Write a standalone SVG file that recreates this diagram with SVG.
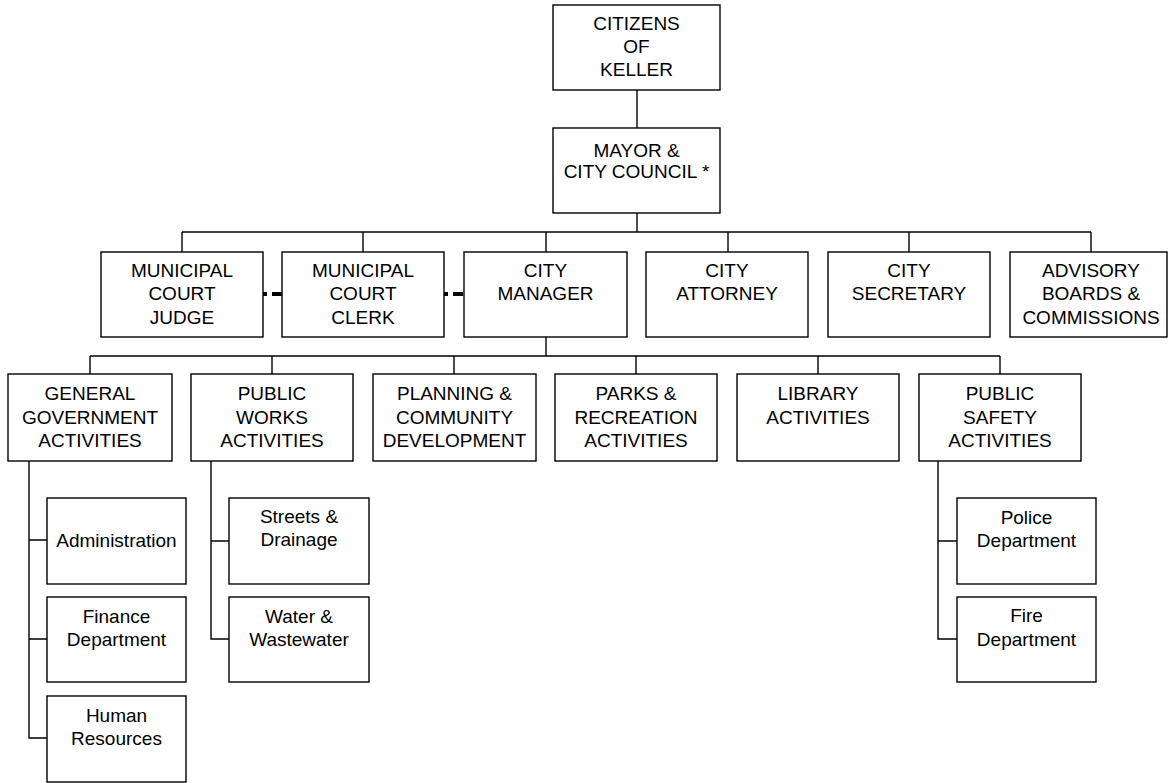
<svg xmlns="http://www.w3.org/2000/svg" width="1168" height="783" viewBox="0 0 1168 783">
<style>
rect.b{fill:#fff;stroke:#000;stroke-width:1.4}
text{font-family:"Liberation Sans",Arial,sans-serif;font-size:19px;fill:#000;text-anchor:middle}
.c line,.c path{stroke:#000;stroke-width:1.4;fill:none}
.c .d{stroke-width:4;stroke-dasharray:4 5 10}
</style>
<rect width="1168" height="783" fill="#fff"/>
<g class="c" id="connectors">
<line x1="637" y1="90" x2="637" y2="128"/>
<line x1="637" y1="213" x2="637" y2="232"/>
<line x1="182" y1="232" x2="1091" y2="232"/>
<line x1="182" y1="232" x2="182" y2="252"/>
<line x1="363" y1="232" x2="363" y2="252"/>
<line x1="546" y1="232" x2="546" y2="252"/>
<line x1="728" y1="232" x2="728" y2="252"/>
<line x1="909" y1="232" x2="909" y2="252"/>
<line x1="1091" y1="232" x2="1091" y2="252"/>
<line class="d" x1="263" y1="294" x2="282" y2="294"/>
<line class="d" x1="444" y1="294" x2="464" y2="294"/>
<line x1="546" y1="337" x2="546" y2="356"/>
<line x1="90" y1="356" x2="1000" y2="356"/>
<line x1="90" y1="356" x2="90" y2="374"/>
<line x1="272" y1="356" x2="272" y2="374"/>
<line x1="454" y1="356" x2="454" y2="374"/>
<line x1="636" y1="356" x2="636" y2="374"/>
<line x1="818" y1="356" x2="818" y2="374"/>
<line x1="1000" y1="356" x2="1000" y2="374"/>
<path d="M29 461V738H47M29 540H47M29 639H47"/>
<path d="M211 461V639H229M211 541H229"/>
<path d="M938 461V639H957M938 541H957"/>
</g>
<g id="citizens"><rect class="b" x="553" y="5" width="167" height="85"/><text x="636.5" y="29.5">CITIZENS</text><text x="636.5" y="52.5">OF</text><text x="636.5" y="76">KELLER</text></g>
<g id="mayor"><rect class="b" x="553" y="128" width="167" height="85"/><text x="636.5" y="156.5">MAYOR &amp;</text><text x="636.5" y="178">CITY COUNCIL *</text></g>
<g id="judge"><rect class="b" x="101" y="252" width="162" height="85"/><text x="182" y="277">MUNICIPAL</text><text x="182" y="300">COURT</text><text x="182" y="323.5">JUDGE</text></g>
<g id="clerk"><rect class="b" x="282" y="252" width="162" height="85"/><text x="363" y="277">MUNICIPAL</text><text x="363" y="300">COURT</text><text x="363" y="323.5">CLERK</text></g>
<g id="manager"><rect class="b" x="464" y="252" width="163" height="85"/><text x="545.5" y="277">CITY</text><text x="545.5" y="300">MANAGER</text></g>
<g id="attorney"><rect class="b" x="646" y="252" width="162" height="85"/><text x="727" y="277">CITY</text><text x="727" y="300">ATTORNEY</text></g>
<g id="secretary"><rect class="b" x="828" y="252" width="162" height="85"/><text x="909" y="277">CITY</text><text x="909" y="300">SECRETARY</text></g>
<g id="advisory"><rect class="b" x="1010" y="252" width="157" height="85"/><text x="1091" y="277">ADVISORY</text><text x="1091" y="300">BOARDS &amp;</text><text x="1091" y="323.5">COMMISSIONS</text></g>
<g id="general"><rect class="b" x="8" y="374" width="164" height="87"/><text x="90" y="400">GENERAL</text><text x="90" y="423.5">GOVERNMENT</text><text x="90" y="447">ACTIVITIES</text></g>
<g id="publicworks"><rect class="b" x="191" y="374" width="162" height="87"/><text x="272" y="400">PUBLIC</text><text x="272" y="423.5">WORKS</text><text x="272" y="447">ACTIVITIES</text></g>
<g id="planning"><rect class="b" x="373" y="374" width="163" height="87"/><text x="454.5" y="400">PLANNING &amp;</text><text x="454.5" y="423.5">COMMUNITY</text><text x="454.5" y="447">DEVELOPMENT</text></g>
<g id="parks"><rect class="b" x="555" y="374" width="162" height="87"/><text x="636" y="400">PARKS &amp;</text><text x="636" y="423.5">RECREATION</text><text x="636" y="447">ACTIVITIES</text></g>
<g id="library"><rect class="b" x="737" y="374" width="162" height="87"/><text x="818" y="400">LIBRARY</text><text x="818" y="423.5">ACTIVITIES</text></g>
<g id="publicsafety"><rect class="b" x="919" y="374" width="162" height="87"/><text x="1000" y="400">PUBLIC</text><text x="1000" y="423.5">SAFETY</text><text x="1000" y="447">ACTIVITIES</text></g>
<g id="administration"><rect class="b" x="47" y="498" width="139" height="86"/><text x="116.5" y="547">Administration</text></g>
<g id="finance"><rect class="b" x="47" y="597" width="139" height="85"/><text x="116.5" y="622.5">Finance</text><text x="116.5" y="646">Department</text></g>
<g id="hr"><rect class="b" x="47" y="696" width="139" height="86"/><text x="116.5" y="721.5">Human</text><text x="116.5" y="745">Resources</text></g>
<g id="streets"><rect class="b" x="229" y="498" width="140" height="86"/><text x="299" y="523">Streets &amp;</text><text x="299" y="546">Drainage</text></g>
<g id="water"><rect class="b" x="229" y="597" width="140" height="85"/><text x="299" y="622.5">Water &amp;</text><text x="299" y="646">Wastewater</text></g>
<g id="police"><rect class="b" x="957" y="498" width="139" height="86"/><text x="1026.5" y="524">Police</text><text x="1026.5" y="546.5">Department</text></g>
<g id="fire"><rect class="b" x="957" y="597" width="139" height="85"/><text x="1026.5" y="622">Fire</text><text x="1026.5" y="645.5">Department</text></g>
</svg>
